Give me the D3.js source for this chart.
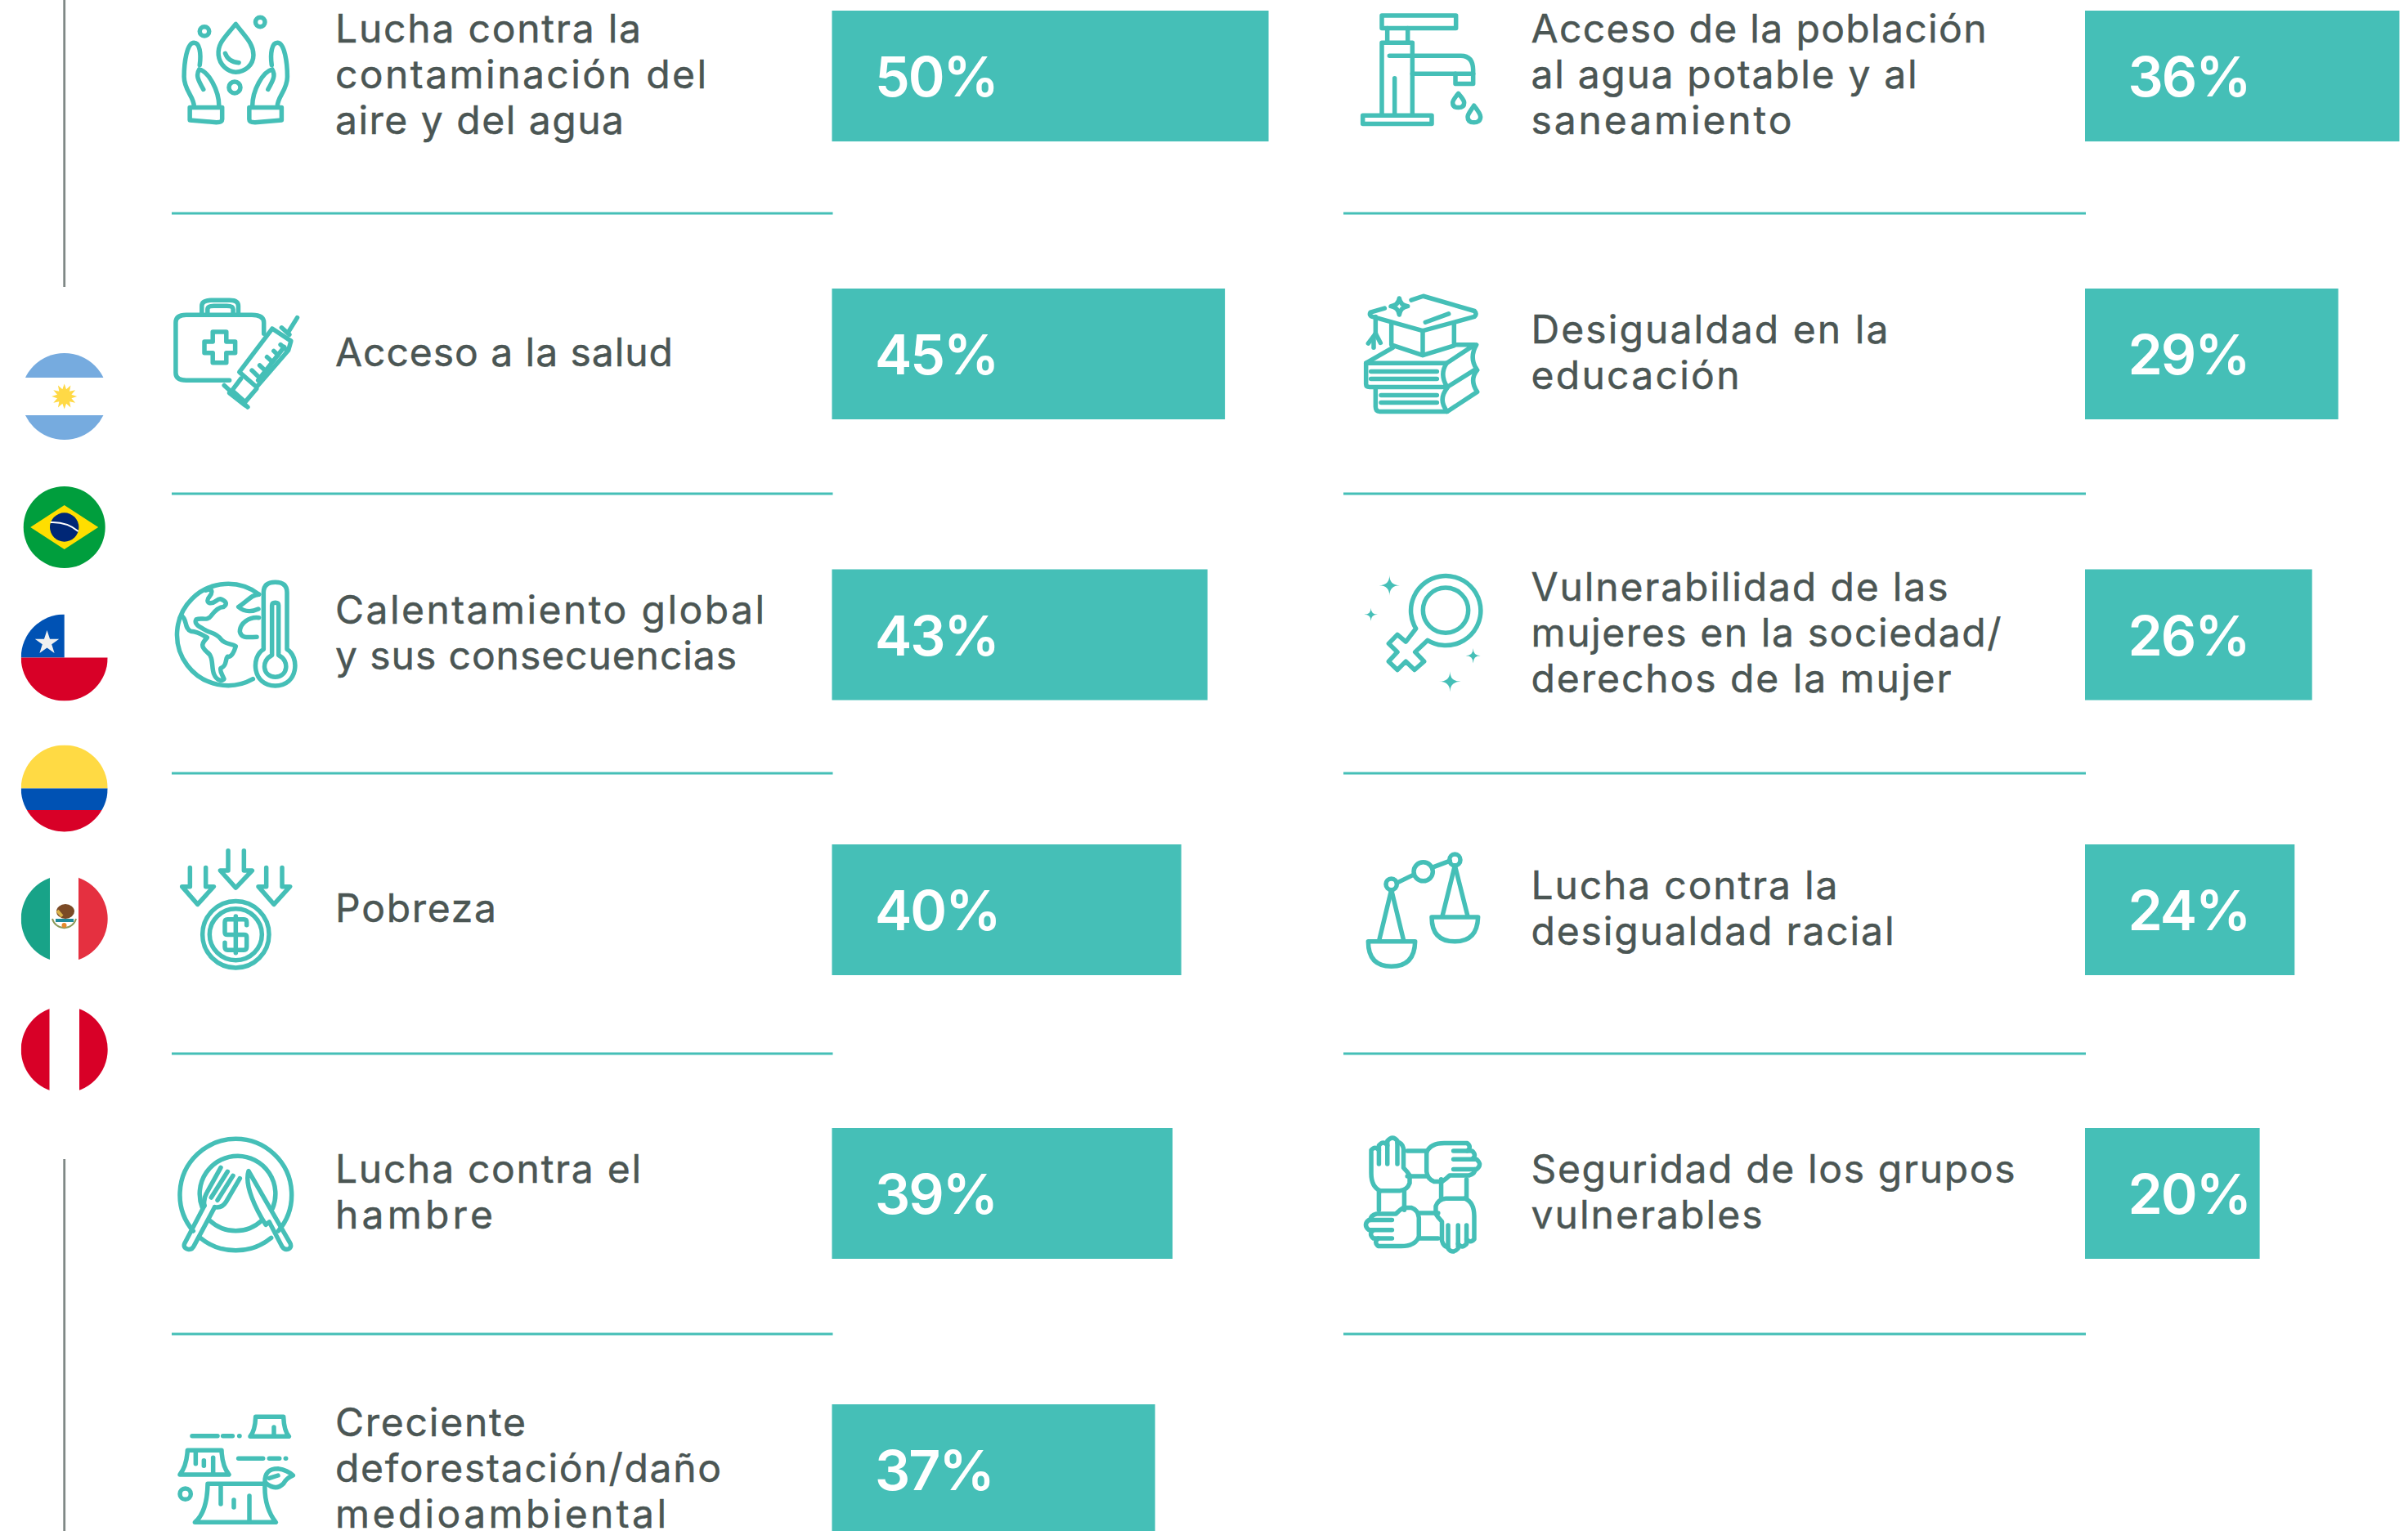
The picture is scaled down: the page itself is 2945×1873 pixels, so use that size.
<!DOCTYPE html>
<html><head><meta charset="utf-8">
<script src="https://cdn.jsdelivr.net/npm/d3@7"></script>
<style>html,body{margin:0;padding:0;background:#fff}svg{display:block}
.icon path{fill:none;stroke:#45BFB7;stroke-width:5.5;stroke-linecap:round;stroke-linejoin:round;vector-effect:non-scaling-stroke}
.icon path.solid{fill:#45BFB7;stroke:none}
</style></head><body><svg id="c" width="2945" height="1873"></svg>
<script>
// ---- data ----
const leftLabels=[["Lucha contra la","contaminación del","aire y del agua"],["Acceso a la salud"],["Calentamiento global","y sus consecuencias"],["Pobreza"],["Lucha contra el","hambre"],["Creciente","deforestación/daño","medioambiental"]];
const leftValues=[50,45,43,40,39,37];
const rightLabels=[["Acceso de la población","al agua potable y al","saneamiento"],["Desigualdad en la","educación"],["Vulnerabilidad de las","mujeres en la sociedad/","derechos de la mujer"],["Lucha contra la","desigualdad racial"],["Seguridad de los grupos","vulnerables"]];
const rightValues=[36,29,26,24,20];
const flags=["Argentina","Brasil","Chile","Colombia","México","Perú"];
// ---- layout ----
const TEAL="#45BFB7",TEXT="#4B5654";
const rowCenters=[93,433,776.5,1113,1460,1798];
const ruleYs=[261,604,946,1289,1632];
const flagYs=[485,645,804.5,964.5,1124,1284];
// rendered width of each text line, in pixels (the reference face is wider than the installed one)
const leftLineWidths=[[374,454,353],[413],[525,491],[197],[374,193],[233,472,405]];
const rightLineWidths=[[557,472,319],[437,255],[510,575,514],[375,444],[592,283]];
const svg=d3.select("#c");
const xLen=d3.scaleLinear().domain([0,50]).range([0,534]);
const yRow=d3.scaleOrdinal().domain(d3.range(6)).range(rowCenters);
const cols=[{labels:leftLabels,values:leftValues,widths:leftLineWidths,barX:1017.5,textX:410,ruleX0:210},
            {labels:rightLabels,values:rightValues,widths:rightLineWidths,barX:2550,textX:1872.5,ruleX0:1643}];
cols.forEach(col=>{
  svg.append("g").selectAll("line").data(ruleYs).join("line")
    .attr("x1",col.ruleX0).attr("x2",col.barX+1).attr("y1",d=>d).attr("y2",d=>d)
    .attr("stroke",TEAL).attr("stroke-width",3);
  const g=svg.append("g").selectAll("g").data(col.values).join("g");
  g.append("rect").attr("x",col.barX).attr("y",(d,i)=>yRow(i)-80)
    .attr("width",d=>xLen(d)).attr("height",160).attr("fill",TEAL);
  g.append("text").attr("x",col.barX+52.5).attr("y",(d,i)=>yRow(i)+25)
    .attr("fill","#fff").attr("font-family","Inter").attr("font-weight",600).attr("font-size",68)
    .attr("letter-spacing",-2).text(d=>d+"%");
  g.each(function(d,i){
    const ls=col.labels[i];
    d3.select(this).selectAll("text.l").data(ls).join("text").attr("class","l")
      .attr("x",col.textX).attr("y",(t,k)=>yRow(i)+14.5+(k-(ls.length-1)/2)*56)
      .attr("fill",TEXT).attr("stroke",TEXT).attr("stroke-width",0.45).attr("font-family","Inter").attr("font-size",48)
      .attr("textLength",(t,k)=>col.widths[i][k]).attr("lengthAdjust","spacing").text(t=>t);
  });
});
// vertical separator
[[0,351],[1418,1873]].forEach(s=>svg.append("line").attr("x1",78.7).attr("x2",78.7).attr("y1",s[0]).attr("y2",s[1]).attr("stroke","#7F8886").attr("stroke-width",2.8));
// flags
const defs=svg.append("defs");
function star(cx,cy,R,r,n){const p=[];for(let i=0;i<n*2;i++){const a=-Math.PI/2+i*Math.PI/n,q=i%2?r:R;p.push([cx+q*Math.cos(a),cy+q*Math.sin(a)]);}return "M"+p.map(d=>d.join(",")).join("L")+"Z";}
const CX=78.7,R=53;
flags.forEach((f,i)=>{
  const cy=flagYs[i],rad=f==="Brasil"?50:R;
  defs.append("clipPath").attr("id","fc"+i).append("circle").attr("cx",CX).attr("cy",cy).attr("r",rad);
  const g=svg.append("g").attr("clip-path",`url(#fc${i})`);
  const rect=(x,y,w,h,c)=>g.append("rect").attr("x",x).attr("y",y).attr("width",w).attr("height",h).attr("fill",c);
  const L=CX-R,T=cy-R,D=2*R;
  if(f==="Argentina"){rect(L,T,D,D,"#fff");rect(L,T,D,cy-23-T,"#76ABDF");rect(L,cy+23,D,R,"#76ABDF");
    g.append("path").attr("d",star(CX,cy,15.5,9,12)).attr("fill","#FFD946");}
  if(f==="Brasil"){rect(L,T,D,D,"#009E3D");
    g.append("path").attr("d",`M${CX-41.5},${cy}L${CX},${cy-27}L${CX+41.5},${cy}L${CX},${cy+27}Z`).attr("fill","#FFDE00");
    g.append("circle").attr("cx",CX).attr("cy",cy).attr("r",17.7).attr("fill","#002776");
    g.append("path").attr("d",`M${CX-17},${cy-6}Q${CX+3},${cy-7} ${CX+17},${cy+5}`).attr("fill","none").attr("stroke","#fff").attr("stroke-width",2);}
  if(f==="Chile"){rect(L,T,D,D,"#fff");rect(L,T,R,R,"#0052B4");rect(L,cy,D,R,"#D80027");
    g.append("path").attr("d",star(57.5,cy-18,15.5,6,5)).attr("fill","#F0F0F0");}
  if(f==="Colombia"){rect(L,T,D,R,"#FFDA44");rect(L,cy,D,26.5,"#0052B4");rect(L,cy+26.5,D,27,"#D80027");}
  if(f==="México"){rect(L,T,D,D,"#fff");rect(L,T,61-L,D,"#18A388");rect(96,T,40,D,"#E53040");
    g.append("ellipse").attr("cx",80).attr("cy",cy-9).attr("rx",11).attr("ry",9).attr("fill","#7B4A26");
    g.append("path").attr("d",`M64,${cy}A15 15 0 0 0 93,${cy}`).attr("fill","none").attr("stroke","#8E9A5A").attr("stroke-width",2);
    g.append("path").attr("d",`M68,${cy+2}H90`).attr("stroke","#1F8A9A").attr("stroke-width",4);
    g.append("path").attr("d",`M70,${cy-10}L76,${cy-3}`).attr("stroke","#D9B24A").attr("stroke-width",4);
    g.append("circle").attr("cx",78.5).attr("cy",cy+8).attr("r",3).attr("fill","#E58A2E");}
  if(f==="Perú"){rect(L,T,D,D,"#fff");rect(L,T,60.5-L,D,"#D80027");rect(97,T,40,D,"#D80027");}
});
// icons, traced in crop coordinates
const el=(x,y,a,b)=>`M${x-a} ${y}a${a} ${b} 0 1 0 ${2*a} 0a${a} ${b} 0 1 0 ${-2*a} 0Z`;
const st4=(x,y,a,b)=>`M${x} ${y-b}Q${x} ${y} ${x+a} ${y}Q${x} ${y} ${x} ${y+b}Q${x} ${y} ${x-a} ${y}Q${x} ${y} ${x} ${y-b}Z`;
function crop(ox,oy,sx,sy){return svg.append("g").attr("class","icon").attr("transform",`translate(${ox},${oy}) scale(${1/sx},${1/sy})`);}
function draw(g,ds,cls){ds.forEach(d=>g.append("path").attr("d",d).attr("class",cls||null));}
// 1 water hands + 2 medkit
const c1=crop(0,0,1.568,2.45);
draw(c1,["M452 72C430 115 417 130 419 165C421 195 437 216 452 216C470 216 486 195 486 165C486 130 470 110 452 72Z",
 "M432 160C436 178 445 186 458 188",el(392,94,9,14),el(499,66,9,14),el(450,262,11,17)]);
const hand=["M372 318C372 290 353 270 353 230C353 190 358 128 372 128C383 128 386 160 383 195","M390 268C380 240 375 225 382 208C400 215 420 270 420 318","M364 322H426V358Q426 367 415 367L364 360Z"];
draw(c1,hand);
draw(c1.append("g").attr("transform","translate(904,0) scale(-1,1)"),hand);
draw(c1,["M440 1140H357Q337 1140 337 1118V967Q337 944 357 944H483Q506 944 506 967V1000",
 "M387 938V917Q387 900 405 900H440Q457 900 457 917V938","M398 938V927Q398 917 410 917H435Q447 917 447 927V938",
 "M408 995H434V1024H451V1058H434V1087H408V1058H392V1024H408Z",
 "M522 985L558 1022L553 1050L492 1160L459 1115L522 985","M553 995L570 952","M540 982L555 1003",
 "M492 1165L470 1205L445 1170L462 1135","M430 1155L475 1220","M440 1178L470 1215",
 "M495 1140L545 1040","M483 1110L495 1128","M498 1095L508 1110","M512 1070L522 1084","M525 1052L533 1064","M538 1033L548 1047"]);
// 3 globe + 4 poverty
const c3=crop(190,680,3,2.8);
draw(c3,["M380 132A187 174 0 1 0 358 422",
 "M95 205C118 215 105 250 130 258C160 260 170 270 190 280C170 300 165 310 190 330C215 345 205 385 215 405C225 430 250 430 252 422C245 405 235 395 240 385C265 375 255 355 265 345C280 350 290 325 295 310C285 300 255 305 240 285C225 265 205 265 185 255C165 245 140 235 150 218C170 210 190 225 205 205C225 180 240 175 250 175C265 165 260 155 240 148C225 145 215 170 195 160C180 145 215 135 205 118C198 112 190 118 185 118",
 "M380 132C350 135 345 150 305 175C330 195 360 190 378 182","M380 212C345 208 310 230 310 260C315 285 345 278 372 278",
 "M397 320V125Q397 90 440 90Q483 90 483 125V320C530 345 525 445 440 445C355 445 350 345 397 320Z",
 "M428 340V170Q428 160 440 160Q452 160 452 170V340C495 360 485 415 440 415C395 415 385 360 428 340Z",
 "M267 1010V1078H238L295 1137L355 1078H325V1010","M127 1068V1133H98L155 1194L214 1133H185V1068","M407 1068V1133H378L435 1194L494 1133H465V1068",
 el(295,1297,122,114),el(295,1297,96,88),
 "M335 1265V1255Q335 1245 325 1245H265Q255 1245 255 1255V1290Q255 1298 265 1298H325Q335 1298 335 1305V1340Q335 1350 325 1350H265Q255 1350 255 1340V1325","M295 1235V1360"]);
// 5 plate + 6 stumps
const c4=crop(190,1360,3,3);
draw(c4,["M139 438A205 205 0 1 1 451 438","M165 463A205 205 0 0 0 425 463",
 "M172 352A139 139 0 1 1 430 355","M200 400A139 139 0 0 0 390 400",
 "M180 345L108 482Q100 500 120 505Q135 508 143 490L218 350","M180 345Q175 320 190 295L240 205","M205 315L265 220","M228 325L285 235","M310 245L260 330Q245 355 218 350",
 "M342 218C325 270 370 360 405 415L418 405L465 495Q475 510 490 503Q503 495 492 478L342 218Z",
 "M368 1120H470Q472 1170 490 1192H348Q366 1170 368 1120Z","M435 1158V1190","M135 1190H228","M248 1190H283","M308 1190h1","M305 1273H395","M418 1273H455","M478 1273h1",
 "M118 1243H243Q245 1300 270 1332H90Q115 1300 118 1243Z","M148 1250V1292","M178 1280V1300","M212 1270V1330",
 "M192 1366H402Q398 1450 442 1507H145Q190 1470 192 1366Z","M240 1370V1440","M288 1425V1452","M345 1410V1505",el(110,1403,20,20),
 "M402 1360Q400 1310 450 1310Q485 1315 505 1335Q480 1345 470 1365Q440 1395 402 1360Z","M418 1345L450 1335"]);
// 7 faucet + 8 books
const c5=crop(1640,0,3,2.904);
draw(c5,["M150 55H422V100H150Z","M170 100V150","M245 100V150","M150 405V152H262V405","M178 198H440Q485 198 485 250V298H420V262H262","M420 262H485","M197 278V405","M80 410H333V440H80Z",
 "M431 332C445 350 452 355 452 365C452 380 440 382 431 382C420 382 410 378 410 365C410 355 420 345 431 332Z","M488 375C505 395 512 405 512 415C512 430 500 435 488 435C475 435 465 430 465 415C465 405 475 395 488 375Z",
 "M160 1095L108 1110Q102 1120 115 1125L300 1175L490 1125Q500 1115 490 1105L302 1052L258 1066","M310 1145L395 1115","M185 1150V1225L300 1262L415 1228V1150","M300 1178V1262","M127 1125V1190","M127 1185L100 1220","M127 1185L145 1218","M120 1200V1235",
 "M214 1060Q218 1085 245 1088Q218 1092 214 1118Q210 1092 183 1088Q210 1085 214 1060Z",
 "M190 1235L92 1290V1365Q92 1375 105 1375H390","M92 1290H388L490 1225H420","M388 1290Q360 1330 390 1375L497 1310Q470 1270 497 1225","M110 1320H352","M110 1346H352",
 "M127 1378V1445Q127 1462 142 1462H390L500 1392Q470 1350 500 1315","M390 1462Q355 1420 390 1378","M147 1404H352","M147 1430H352"]);
// 9 women + 10 scale
const c6=crop(1640,680,3,1.742);
draw(c6,["M275 155A128 74 0 1 1 318 180L272 205L305 225L270 243L238 225L207 243L175 225L207 205L175 187L207 168L238 183Z",el(384,116,83,48),
 el(302,673,35,20),el(185,700,20,12),el(418,648,20,12),"M205 697L265 680","M340 663L400 650",
 "M185 712L140 820","M185 712L230 820","M100 822H272Q270 875 185 875Q100 875 100 822Z","M418 660L372 768","M418 660L465 768","M333 770H503Q500 822 418 822Q333 822 333 770Z"]);
draw(c6,[st4(178,63,38,22),st4(110,125,25,14),st4(485,213,27,16),st4(400,268,40,22)],"solid");
// 11 four hands
const c7=svg.append("g").attr("class","icon").attr("transform","translate(1740,1461.5) scale(0.94)");
[0,90,180,270].forEach(a=>draw(c7.append("g").attr("transform",`rotate(${a})`),[
 "M-55 -5Q-67 -10 -67 -28V-58Q-62 -64 -57 -58V-40","M-57 -58V-64Q-51 -71 -46 -64V-40","M-46 -64V-70Q-39 -78 -33 -70V-40","M-33 -68Q-27 -68 -25 -60V-35Q-20 -30 -17 -25V-15Q-20 -6 -30 -5H-55","M-57 -5V20","M-24 -5V20"]));
</script></body></html>
